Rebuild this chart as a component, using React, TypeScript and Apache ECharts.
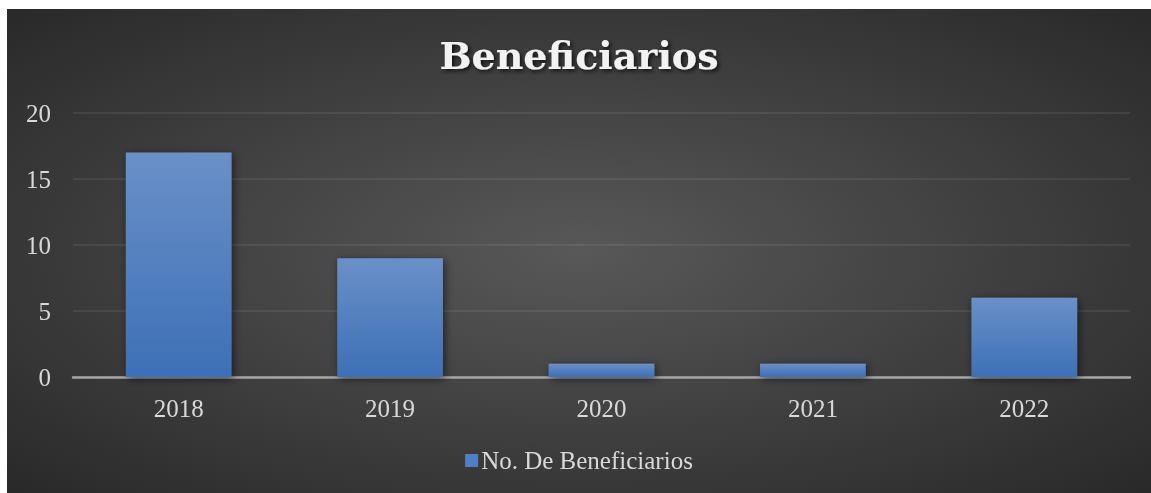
import React, { useEffect, useRef } from "react";
import * as echarts from "echarts";

const categories = ["2018", "2019", "2020", "2021", "2022"];
const beneficiarios = [17, 9, 1, 1, 6];
const seriesName = "No. De Beneficiarios";
const titleText = "Beneficiarios";

export default function App() {
  const ref = useRef<HTMLDivElement>(null);
  useEffect(() => {
    if (!ref.current) return;
    const chart = echarts.init(ref.current, null, { renderer: "svg" });
    const labelFont = "'Liberation Serif', serif";
    chart.setOption({
      animation: false,
      backgroundColor: new echarts.graphic.RadialGradient(0.5, 0.5, 0.75, [
        { offset: 0, color: "#585858" },
        { offset: 1, color: "#262626" },
      ]),
      title: {
        text: titleText,
        left: "center",
        top: 22,
        textStyle: {
          fontFamily: "'DejaVu Serif', serif",
          fontWeight: "bold",
          fontSize: 38,
          color: "#f2f2f2",
          textShadowColor: "rgba(0,0,0,0.75)",
          textShadowBlur: 4,
          textShadowOffsetX: 2,
          textShadowOffsetY: 2,
        },
      },
      grid: { left: 66, right: 21, top: 104, bottom: 116 },
      legend: {
        bottom: 15,
        left: "center",
        itemWidth: 13,
        itemHeight: 13,
        itemGap: 5,
        icon: "rect",
        textStyle: { fontFamily: labelFont, fontSize: 25, color: "#d9d9d9", padding: [0, 0, 0, -2] },
        data: [{ name: seriesName, itemStyle: { color: "#4f7fc4" } }],
      },
      xAxis: {
        type: "category",
        data: categories,
        axisTick: { show: false },
        axisLine: { show: true, lineStyle: { color: "#a6a6a6", width: 2.5 } },
        axisLabel: { fontFamily: labelFont, fontSize: 25, color: "#d9d9d9", margin: 19 },
      },
      yAxis: {
        type: "value",
        min: 0,
        max: 20,
        interval: 5,
        axisLine: { show: false },
        axisTick: { show: false },
        axisLabel: { fontFamily: labelFont, fontSize: 25, color: "#d9d9d9", margin: 22 },
        splitLine: { lineStyle: { color: "rgba(255,255,255,0.1)", width: 1.5 } },
      },
      series: [
        {
          name: seriesName,
          type: "bar",
          data: beneficiarios,
          barWidth: "50%",
          itemStyle: {
            color: new echarts.graphic.LinearGradient(0, 0, 0, 1, [
              { offset: 0, color: "#6a90c8" },
              { offset: 1, color: "#3d70b6" },
            ]),
            shadowColor: "rgba(0,0,0,0.55)",
            shadowBlur: 8,
            shadowOffsetX: 2,
            shadowOffsetY: 2,
          },
        },
      ],
    });
    return () => chart.dispose();
  }, []);
  return (
    <div
      ref={ref}
      style={{ position: "fixed", left: 7, top: 9, width: 1144, height: 484 }}
    />
  );
}
